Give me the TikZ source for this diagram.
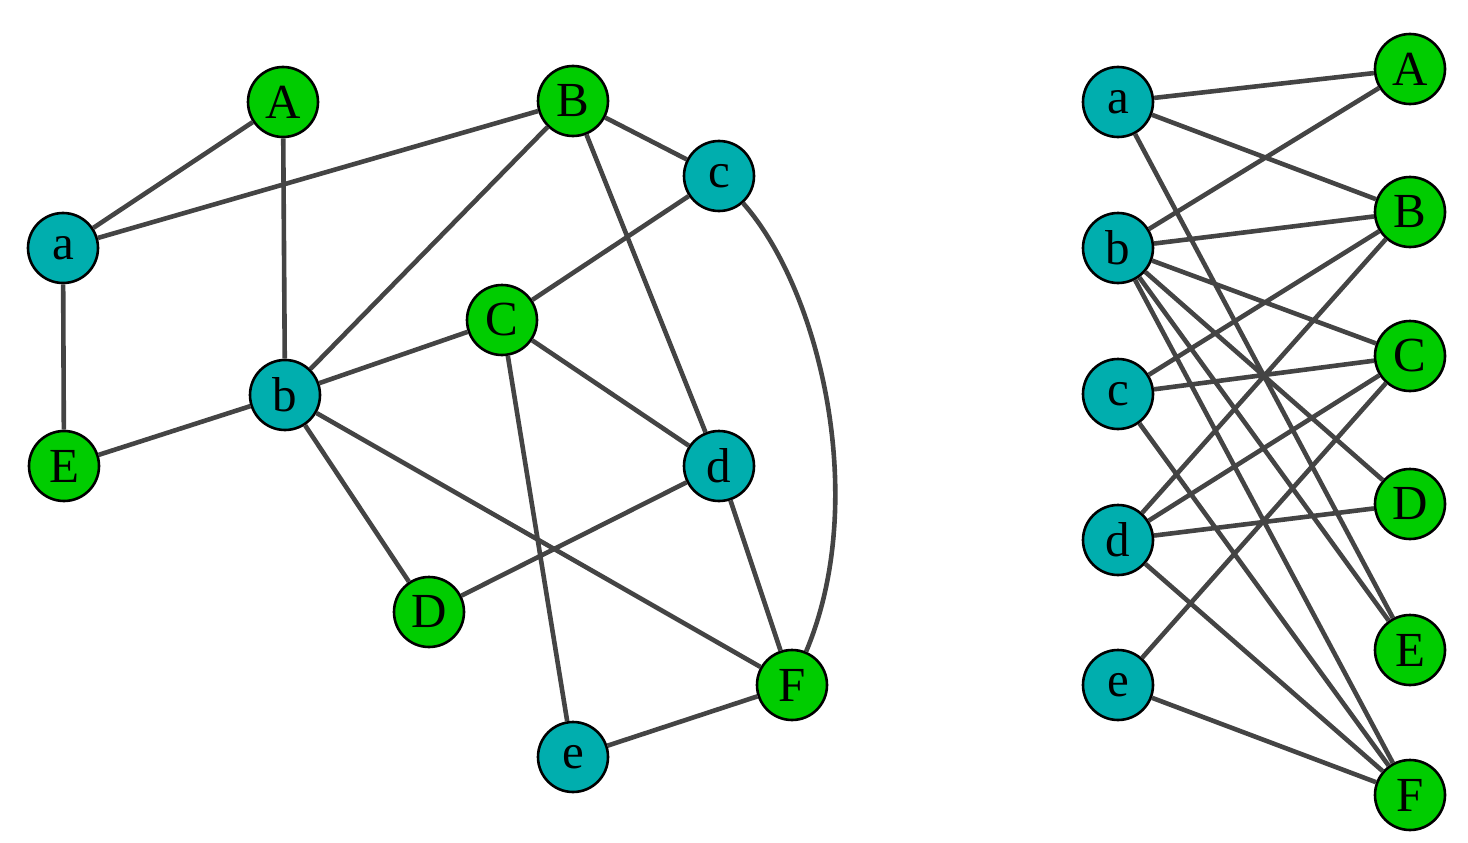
\documentclass[tikz,border=0pt]{standalone}
\usepackage{fontspec}
\setmainfont{Liberation Serif}
\definecolor{tealn}{HTML}{00AEAE}
\definecolor{greenn}{HTML}{00CC00}
\definecolor{edgec}{HTML}{444444}
\tikzset{
  vtx/.style={circle, draw=black, line width=2.6pt, minimum size=70pt, inner sep=0pt, font=\fontsize{49}{50}\selectfont},
  tl/.style={vtx, fill=tealn},
  gr/.style={vtx, fill=greenn},
  ed/.style={draw=edgec, line width=4.6pt}
}
\begin{document}
\begin{tikzpicture}[x=1pt,y=-1pt]
\useasboundingbox (0,0) rectangle (1468,843);
% left graph
\node[gr] (A) at (283,102) {A};
\node[gr] (B) at (573,101) {B};
\node[tl] (a) at (63,248) {a};
\node[tl] (c) at (719,176) {c};
\node[gr] (C) at (502,320) {C};
\node[tl] (b) at (285,395) {b};
\node[gr] (E) at (64,466) {E};
\node[tl] (d) at (719,466) {d};
\node[gr] (D) at (429,612) {D};
\node[gr] (F) at (792,685) {F};
\node[tl] (e) at (573,757) {e};
\path[ed] (a) -- (A) (a) -- (B) (a) -- (E)
  (A) -- (b) (B) -- (b) (B) -- (c) (B) -- (d)
  (c) -- (C) (C) -- (b) (C) -- (d) (C) -- (e)
  (b) -- (E) (b) -- (D) (b) -- (F)
  (d) -- (D) (d) -- (F) (e) -- (F);
\path[ed] (c) .. controls (820,290) and (870,500) .. (F);
% right graph
\node[tl] (ra) at (1118,102) {a};
\node[tl] (rb) at (1118,248) {b};
\node[tl] (rc) at (1118,394) {c};
\node[tl] (rd) at (1118,540) {d};
\node[tl] (re) at (1118,685) {e};
\node[gr] (rA) at (1410,69) {A};
\node[gr] (rB) at (1410,212) {B};
\node[gr] (rC) at (1410,356) {C};
\node[gr] (rD) at (1410,504) {D};
\node[gr] (rE) at (1410,650) {E};
\node[gr] (rF) at (1410,795) {F};
\path[ed] (ra) -- (rA) (ra) -- (rB) (ra) -- (rE)
  (rb) -- (rA) (rb) -- (rB) (rb) -- (rC) (rb) -- (rD) (rb) -- (rE) (rb) -- (rF)
  (rc) -- (rB) (rc) -- (rC) (rc) -- (rF)
  (rd) -- (rB) (rd) -- (rC) (rd) -- (rD) (rd) -- (rF)
  (re) -- (rC) (re) -- (rF);
\end{tikzpicture}
\end{document}
